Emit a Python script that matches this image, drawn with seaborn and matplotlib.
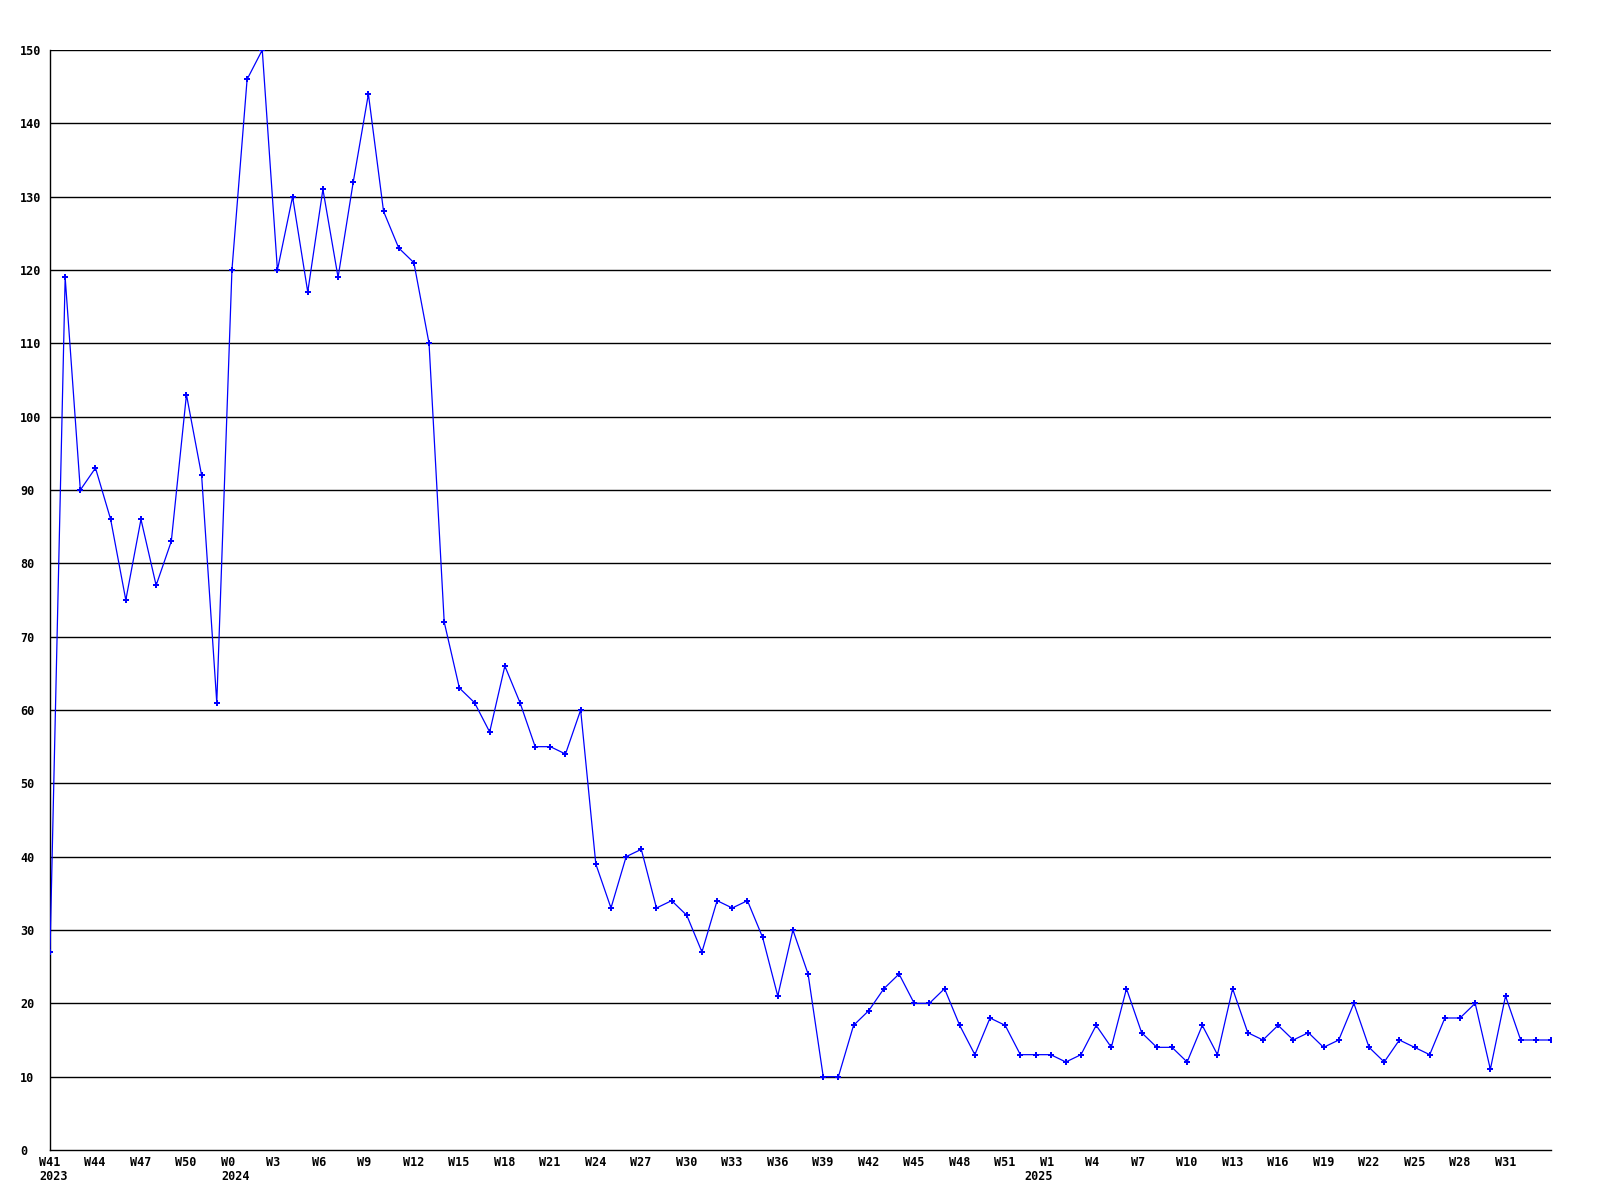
import numpy as np
import pandas as pd
import seaborn as sns
import matplotlib.pyplot as plt
from matplotlib.transforms import offset_copy, blended_transform_factory

# weekly counts, W41 2023 .. W34 2025
values = [27, 119, 90, 93, 86, 75, 86, 77, 83, 103, 92, 61, 120, 146, 150,
          120, 130, 117, 131, 119, 132, 144, 128, 123, 121, 110, 72, 63, 61,
          57, 66, 61, 55, 55, 54, 60, 39, 33, 40, 41, 33, 34, 32, 27, 34, 33,
          34, 29, 21, 30, 24, 10, 10, 17, 19, 22, 24, 20, 20, 22, 17, 13, 18,
          17, 13, 13, 13, 12, 13, 17, 14, 22, 16, 14, 14, 12, 17, 13, 22, 16,
          15, 17, 15, 16, 14, 15, 20, 14, 12, 15, 14, 13, 18, 18, 20, 11, 21,
          15, 15, 15]

tick_labels = ["W41", "W44", "W47", "W50", "W0", "W3", "W6", "W9",
               "W12", "W15", "W18", "W21", "W24", "W27", "W30", "W33", "W36",
               "W39", "W42", "W45", "W48", "W51", "W1", "W4", "W7", "W10",
               "W13", "W16", "W19", "W22", "W25", "W28", "W31"]
# year labels sit under the first week of each year
years = ["2023", "2024", "2025"]
year_start = [0, 12, 65]
y_ticks = list(range(0, 151, 10))

df = pd.DataFrame({'idx': np.arange(len(values)), 'count': values})

sns.set_style('white')
plt.rcParams['font.family'] = ['DejaVu Sans Mono']

fig, ax = plt.subplots(figsize=(16, 12), dpi=100)
fig.subplots_adjust(left=50/1600, right=1551/1600, top=1 - 50/1200, bottom=50/1200)

# horizontal grid lines in black, like the original GD chart
for yv in y_ticks[1:]:
    ax.axhline(yv, color='black', lw=1.0, zorder=1)

sns.lineplot(data=df, x='idx', y='count', ax=ax, color='#0000ff', lw=0.9,
             marker='P', markersize=4.5, markeredgewidth=0, zorder=3)

ax.set_xlim(0, len(values) - 1)
ax.set_ylim(0, 150)
ax.set_xlabel('')
ax.set_ylabel('')

for side in ['top', 'right']:
    ax.spines[side].set_visible(False)
for side in ['left', 'bottom']:
    ax.spines[side].set_color('black')
    ax.spines[side].set_linewidth(1.0)

ax.set_yticks(y_ticks)
ax.set_yticklabels([str(v) for v in y_ticks], fontsize=8.5, fontweight='bold', color='black')
ax.tick_params(axis='y', length=0, pad=21.6)
for lab in ax.get_yticklabels():
    lab.set_horizontalalignment('left')

ax.set_xticks(range(0, 3 * len(tick_labels), 3))
ax.set_xticklabels(tick_labels, fontsize=8.5, fontweight='bold', color='black')
ax.tick_params(axis='x', length=0, pad=4)
for lab in ax.get_xticklabels():
    lab.set_horizontalalignment('left')
    lab.set_transform(offset_copy(lab.get_transform(), fig=fig, x=-11, y=0, units='dots'))

trans = blended_transform_factory(ax.transData, ax.transAxes)
trans = offset_copy(trans, fig=fig, x=-11, y=-27, units='dots')
for yr, pos in zip(years, year_start):
    ax.text(pos, 0, yr, transform=trans, ha='left', va='center',
            fontsize=8.5, fontweight='bold', color='black')

fig.savefig('out.png', dpi=100, facecolor='white')
